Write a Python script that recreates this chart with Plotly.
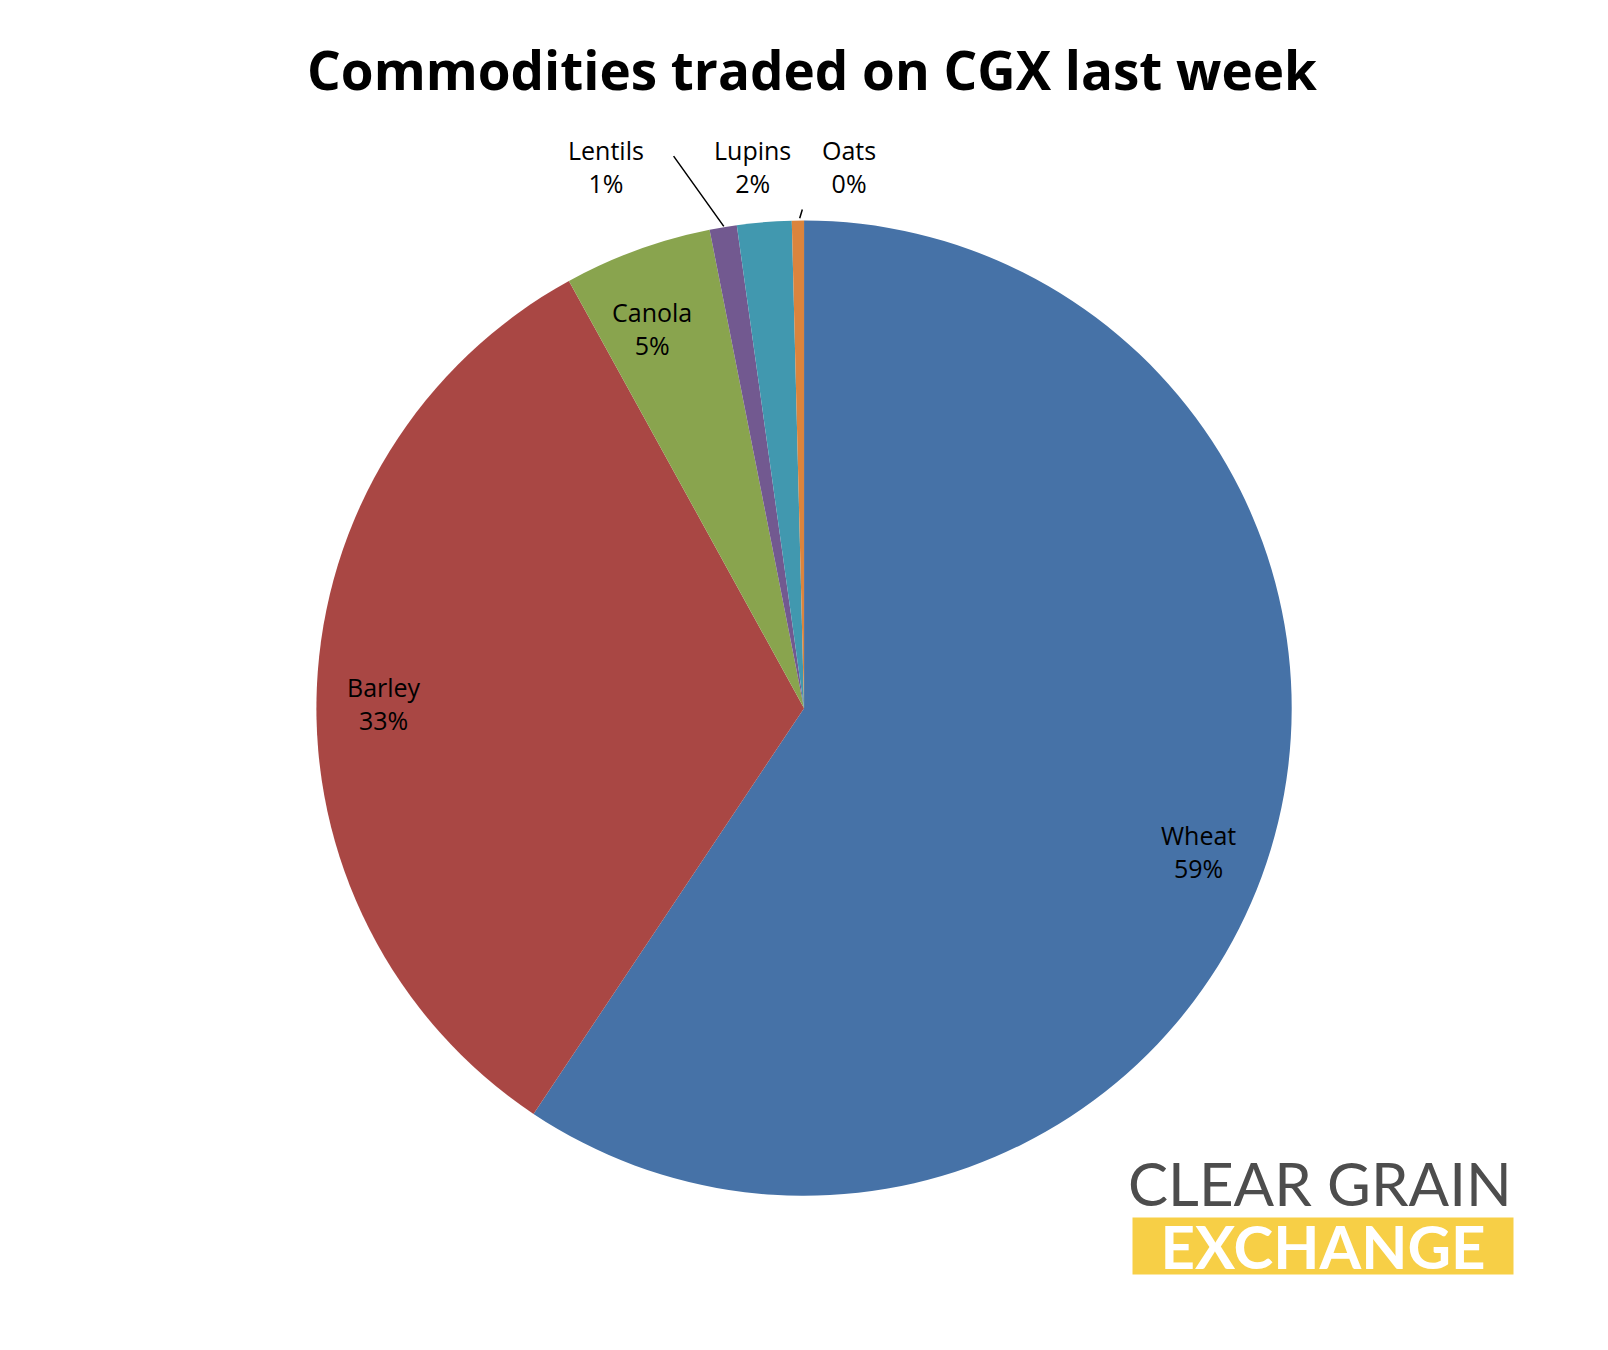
import plotly.graph_objects as go

labels = ["Wheat", "Barley", "Canola", "Lentils", "Lupins", "Oats"]
values = [59.3, 32.6, 4.9, 0.9, 1.8, 0.4]
colors = ["#4672A7", "#A94744", "#89A44E", "#725990", "#4198AF", "#DB843D"]
pct_text = ["59%", "33%", "5%", "1%", "2%", "0%"]

S = 1608 / 1568
label_px = [(1161, 823), (367, 678), (628, 313), (583, 155), (726, 155), (820, 155)]
leader_px = [None, None, None, (698, 213), None, (772, 205)]

W, H = 1608, 1350
fig = go.Figure(go.Pie(
    labels=labels, values=values, sort=False, direction="clockwise", rotation=0,
    marker=dict(colors=colors, line=dict(width=0)),
    textinfo="none",
    domain=dict(x=[307.9 / W, 1284.2 / W], y=[1 - 1187.8 / H, 1 - 212.5 / H]),
    showlegend=False, hoverinfo="label+percent",
))

annotations = []
for lab, pct, (px, py), lead in zip(labels, pct_text, label_px, leader_px):
    annotations.append(dict(
        text=f"{lab}<br>{pct}", x=px * S / W, y=1 - py * S / H, xref="paper", yref="paper",
        showarrow=False, xanchor="center", yanchor="middle",
        font=dict(size=25, family="Open Sans", color="black")))
    if lead:
        tx = px + (65 if lab == "Lentils" else -45)
        ty = py - 12 if lab == "Lentils" else py + 40
        annotations.append(dict(
            x=lead[0] * S / W, y=1 - lead[1] * S / H, xref="paper", yref="paper", text="",
            showarrow=True, arrowhead=0, arrowwidth=1.5, arrowcolor="black",
            ax=(tx - lead[0]) * S, ay=(ty - lead[1]) * S))

annotations += [
    dict(text="CLEAR GRAIN", x=1469 * S / W, y=1 - 1146 * S / H, xref="paper", yref="paper",
         xanchor="right", yanchor="middle", showarrow=False,
         font=dict(size=60, family="Lato", color="#4D4D4D")),
    dict(text="<b>EXCHANGE</b>", x=1469 * S / W, y=1 - 1207 * S / H, xref="paper", yref="paper",
         xanchor="right", yanchor="middle", showarrow=False, bgcolor="#F7CF46",
         width=380, height=56, align="center", borderpad=0,
         font=dict(size=60, family="Lato", color="white")),
]

fig.update_layout(
    width=W, height=H, margin=dict(l=0, r=0, t=0, b=0),
    paper_bgcolor="white",
    title=dict(text="<b>Commodities traded on CGX last week</b>", x=0.5, y=1 - 62 * S / H,
               xanchor="center", yanchor="middle",
               font=dict(size=53, family="Open Sans", color="black")),
    annotations=annotations,
)
fig.write_html("out.html")
